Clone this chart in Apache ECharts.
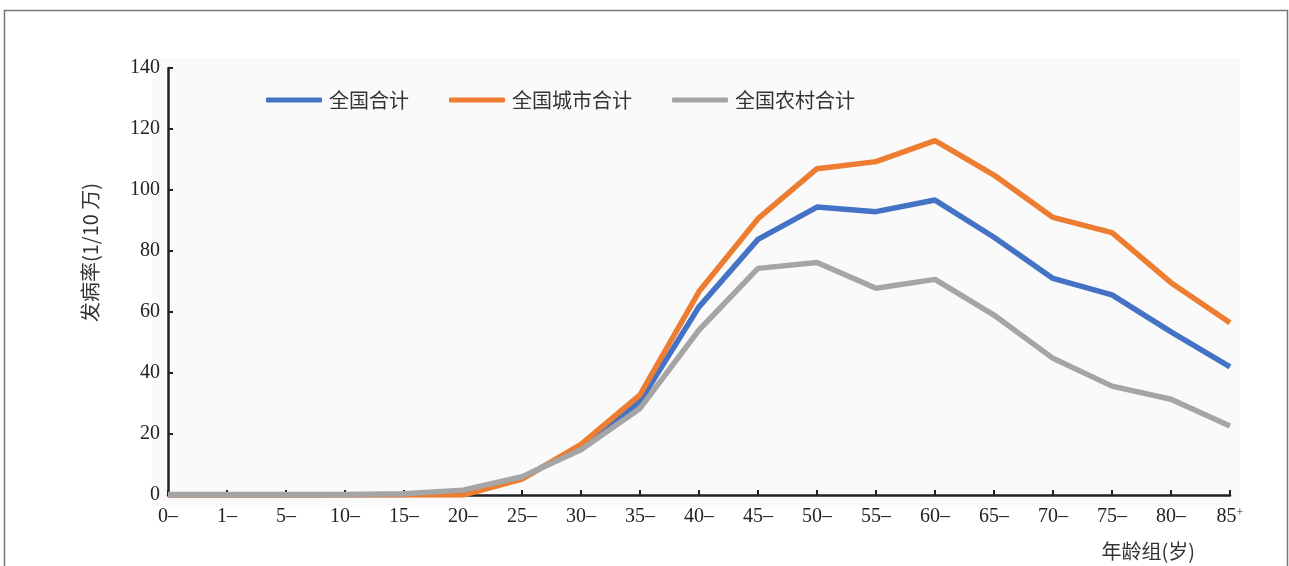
<!DOCTYPE html>
<html>
<head>
<meta charset="utf-8">
<script src="https://cdn.jsdelivr.net/npm/echarts@6/dist/echarts.min.js"></script>
<style>
html,body{margin:0;padding:0;background:#fff;}
#chart{width:1289px;height:566px;}
</style>
</head>
<body>
<div id="chart"></div>
<script>
var categories = ['0–','1–','5–','10–','15–','20–','25–','30–','35–','40–','45–','50–','55–','60–','65–','70–','75–','80–','85+'];
var totalNational = [0,0,0,0.1,0.2,0.8,5.5,16,30.6,61.7,83.8,94.4,92.9,96.7,84.5,71,65.6,53.5,42];
var totalUrban = [0,0,0,0,0.1,0,5.2,16.6,32.8,66.7,90.6,107,109.3,116.2,104.9,91,86,69.6,56.5];
var totalRural = [0.2,0.2,0.2,0.2,0.4,1.6,6,14.8,28.4,54.1,74.3,76.2,67.8,70.7,59,44.8,35.7,31.4,22.6];
var seriesNames = ['全国合计','全国城市合计','全国农村合计'];
var yTicks = [0,20,40,60,80,100,120,140];

var chart = echarts.init(document.getElementById('chart'));
var serif = '"Liberation Serif","DejaVu Serif",serif';
var cjk = '"Noto Sans CJK SC","Liberation Serif",serif';
var option = {
  backgroundColor: '#fff',
  animation: false,
  graphic: [
    {type:'rect', z:-10, shape:{x:4.5,y:10.5,width:1283,height:600}, style:{fill:'#fff',stroke:'#777',lineWidth:1.5}},
    {type:'rect', z:-5, shape:{x:152,y:58,width:1088,height:449}, style:{fill:'#fafafa'}}
  ],
  color: ['#4472c4','#ed7d31','#a5a5a5'],
  legend: {
    left: 261, top: 85,
    itemWidth: 56, itemHeight: 5, itemGap: 40,
    icon: 'roundRect',
    textStyle: {fontFamily: cjk, fontSize: 20, color: '#333', padding:[0,0,0,2]},
    data: seriesNames
  },
  grid: {left: 168, right: 59, top: 68, bottom: 71, containLabel: false},
  xAxis: {
    type: 'category',
    data: categories,
    boundaryGap: false,
    name: '年龄组(岁)',
    nameLocation: 'end',
    nameGap: 0,
    nameTextStyle: {fontFamily: cjk, fontSize: 20, color: '#333', align:'right', verticalAlign:'top', padding:[46,35,0,0]},
    axisLine: {lineStyle: {color: '#222', width: 2.5}},
    axisTick: {inside: true, length: 5, interval: 0, lineStyle:{color:'#222', width:2}},
    axisLabel: {
      interval: 0,
      fontFamily: serif, fontSize: 20, color: '#222', margin: 12,
      formatter: function(v){ return v === '85+' ? '85{sup|+}' : v; },
      rich: {sup: {fontFamily: serif, fontSize: 12, color:'#222', verticalAlign:'top', padding:[0,0,8,0]}}
    },
    splitLine: {show: false}
  },
  yAxis: {
    type: 'value',
    min: 0, max: 140, interval: 20,
    name: '发病率(1/10 万)',
    nameLocation: 'middle',
    nameGap: 68,
    nameRotate: 90,
    nameTextStyle: {fontFamily: cjk, fontSize: 20, color: '#333', padding:[0,0,0,58]},
    axisLine: {show: true, lineStyle: {color: '#222', width: 2.5}},
    axisTick: {show: true, inside: true, length: 5, lineStyle:{color:'#222', width:2}},
    axisLabel: {fontFamily: serif, fontSize: 20, color: '#222', margin: 8,
      formatter: function(v){ return yTicks.indexOf(v) >= 0 ? String(v) : ''; }},
    splitLine: {show: false}
  },
  series: [
    {name: seriesNames[0], type: 'line', data: totalNational, symbol: 'none', lineStyle: {width: 5.5}, z: 2},
    {name: seriesNames[1], type: 'line', data: totalUrban, symbol: 'none', lineStyle: {width: 5.5}, z: 3},
    {name: seriesNames[2], type: 'line', data: totalRural, symbol: 'none', lineStyle: {width: 5.5}, z: 4}
  ]
};
chart.setOption(option);
</script>
</body>
</html>
